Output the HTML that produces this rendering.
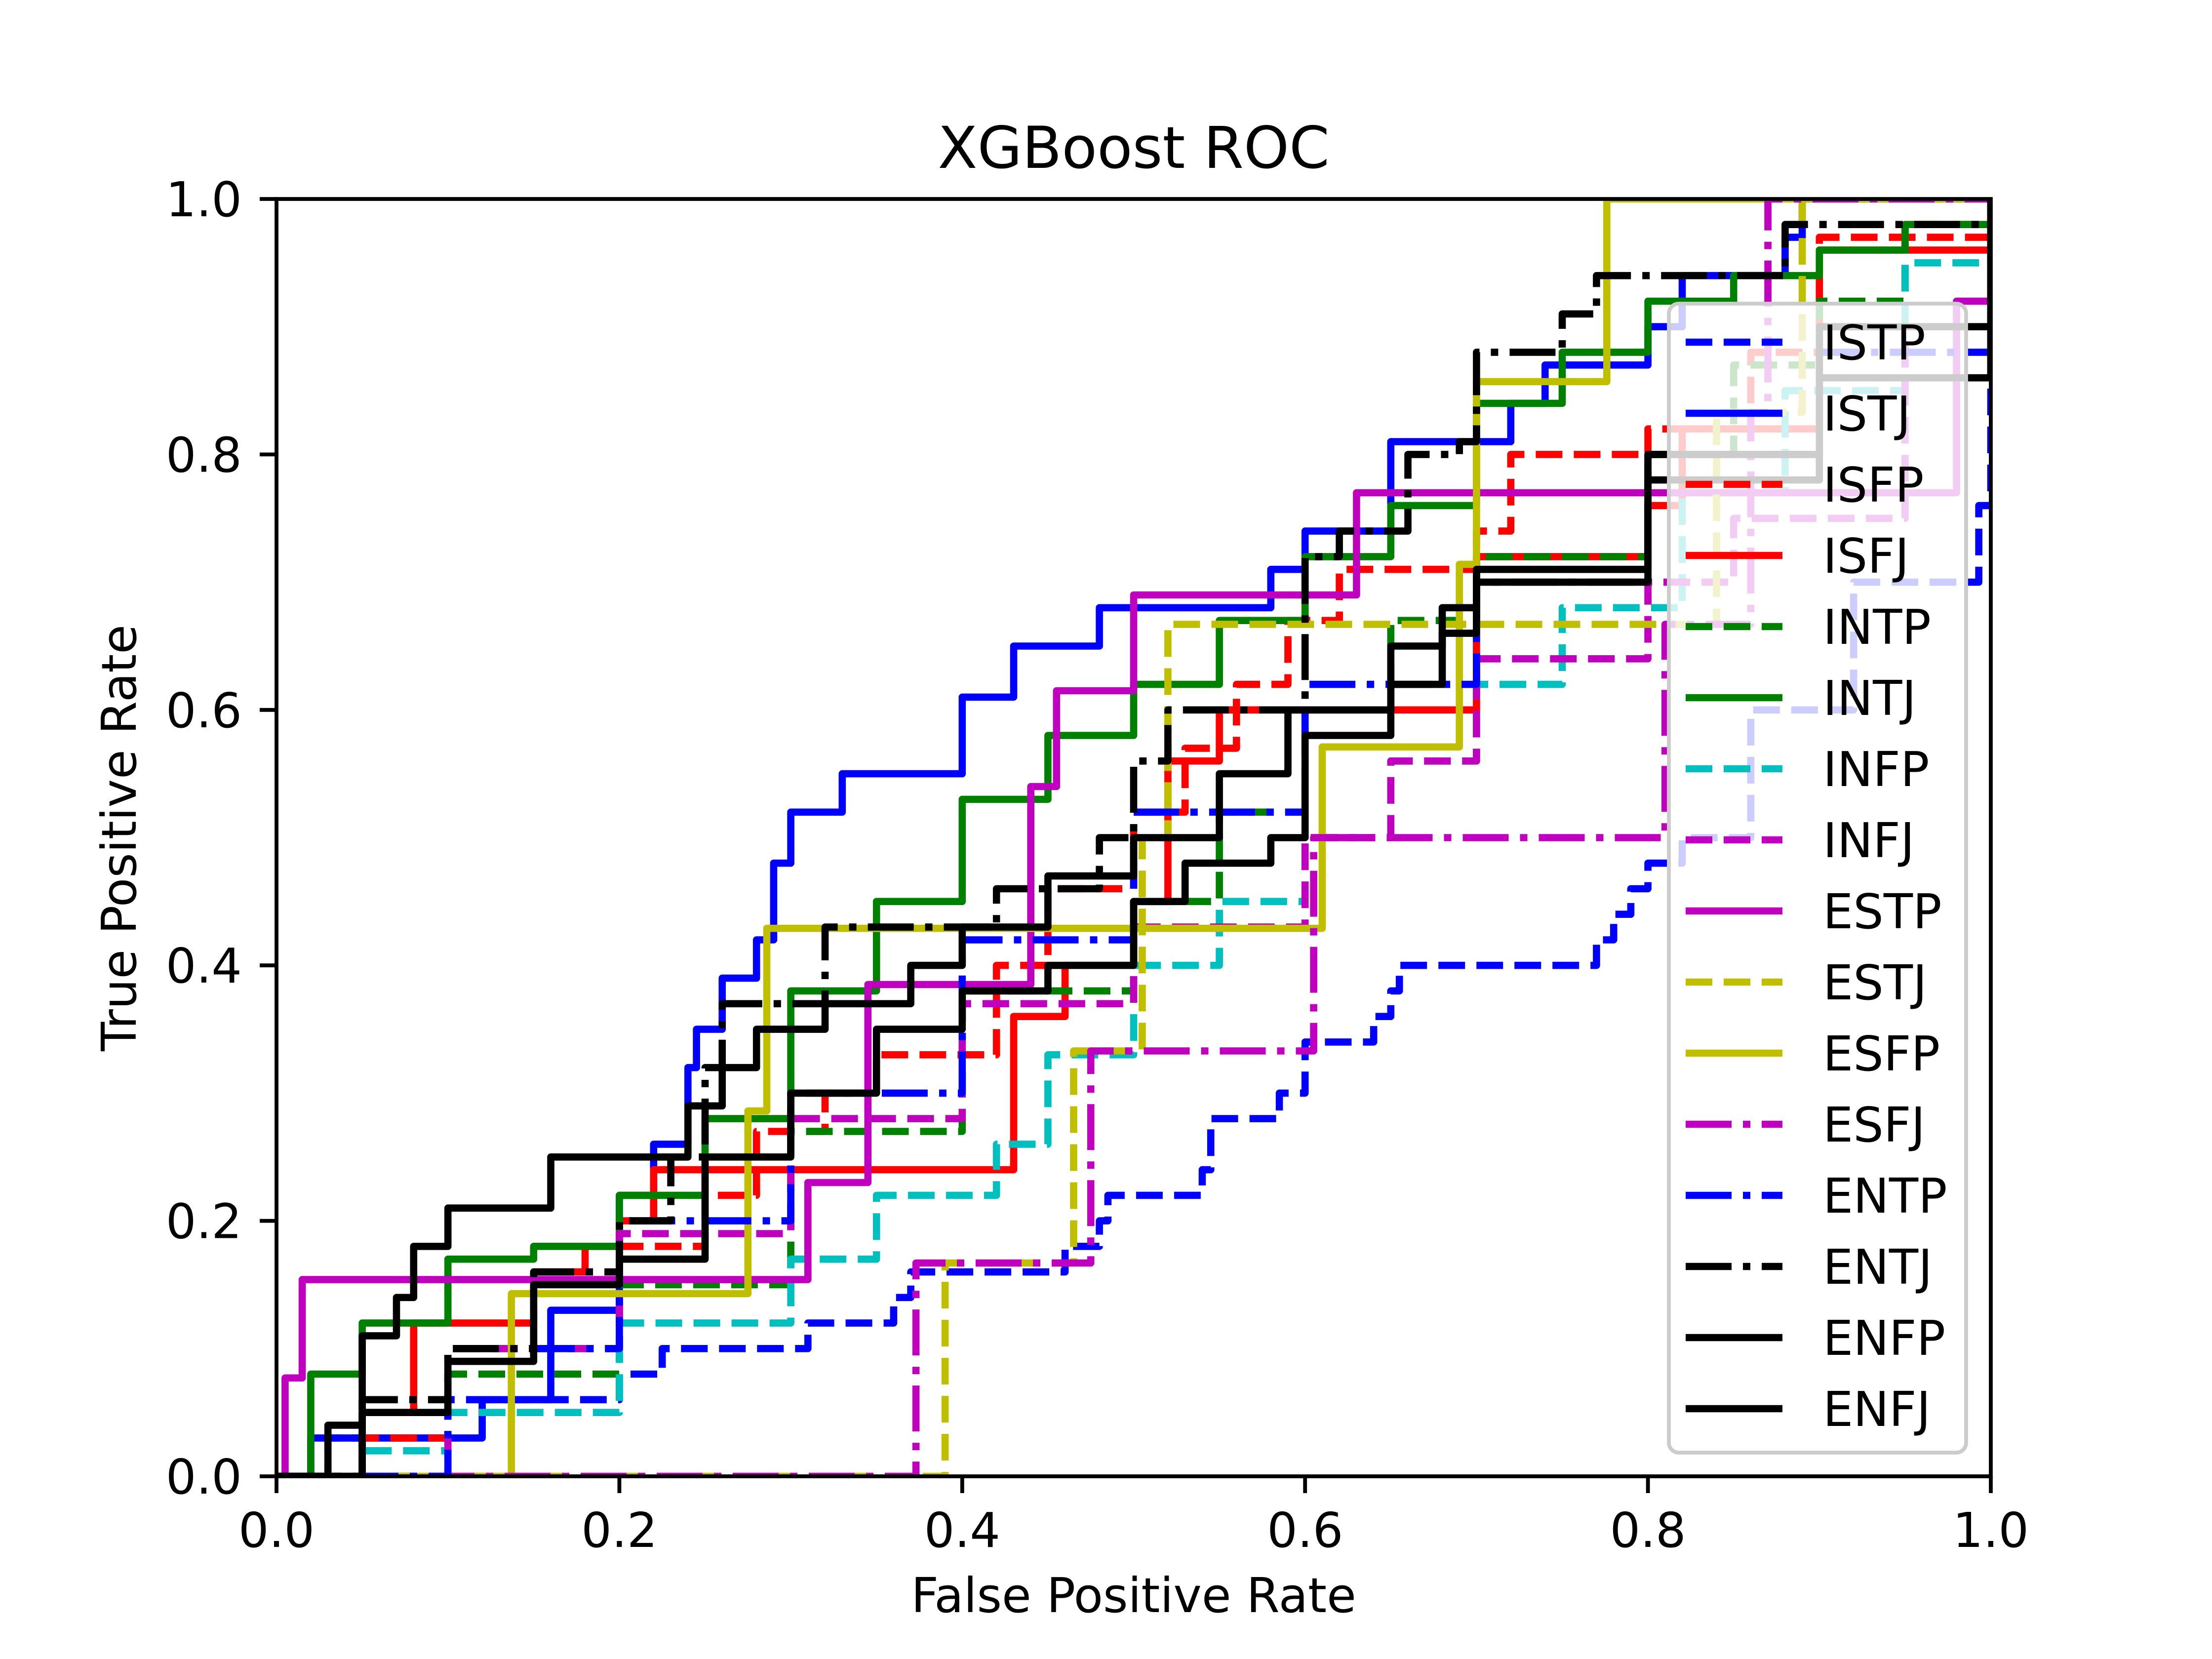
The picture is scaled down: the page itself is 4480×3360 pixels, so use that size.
<!DOCTYPE html>
<html><head><meta charset="utf-8">
<style>
html,body{margin:0;padding:0;background:#fff;}
svg{display:block;font-family:"DejaVu Sans","Liberation Sans",sans-serif;}
</style></head>
<body>
<svg id="chart" xmlns="http://www.w3.org/2000/svg" width="4480" height="3360" viewBox="0 0 4480 3360">
<rect width="4480" height="3360" fill="#fff"/>
<defs><clipPath id="clip"><rect x="560" y="403" width="3472" height="2587"/></clipPath></defs>
<text x="2296" y="340" font-size="117" text-anchor="middle">XGBoost ROC</text>
<text x="2296" y="3265" font-size="97" text-anchor="middle">False Positive Rate</text>
<text x="0" y="0" font-size="97" text-anchor="middle" transform="translate(275,1697) rotate(-90)">True Positive Rate</text>
<g id="ticks"></g>
<g id="lines" clip-path="url(#clip)"></g>
<rect x="560" y="403" width="3472" height="2587" fill="none" stroke="#000" stroke-width="7.8"/>
<g id="legend"></g>
</svg>
<script>
const classNames = ["ISTP","ISTJ","ISFP","ISFJ","INTP","INTJ","INFP","INFJ","ESTP","ESTJ","ESFP","ESFJ","ENTP","ENTJ","ENFP","ENFJ"];
const colors = ["#0000ff","#0000ff","#ff0000","#ff0000","#008000","#008000","#00bfbf","#bf00bf","#bf00bf","#bfbf00","#bfbf00","#bf00bf","#0000ff","#000000","#000000","#000000"];
const styles = ["dash","solid","dash","solid","dash","solid","dash","dash","solid","dash","solid","dashdot","dashdot","dashdot","solid","solid"];
const xTicks = [0,0.2,0.4,0.6,0.8,1.0];
const yTicks = [0,0.2,0.4,0.6,0.8,1.0];
const ISTP = [[0,0],[0.03,0.03],[0.1,0.06],[0.2,0.06],[0.2,0.08],[0.225,0.1],[0.31,0.12],[0.36,0.14],[0.37,0.16],[0.46,0.18],[0.48,0.2],[0.485,0.22],[0.54,0.24],[0.545,0.28],[0.585,0.3],[0.6,0.34],[0.64,0.36],[0.65,0.38],[0.655,0.4],[0.77,0.42],[0.78,0.44],[0.79,0.46],[0.8,0.48],[0.82,0.5],[0.86,0.6],[0.92,0.7],[0.993,0.76],[1,1]];
const ISTJ = [[0,0],[0.02,0.03],[0.12,0.06],[0.16,0.13],[0.2,0.22],[0.22,0.26],[0.24,0.32],[0.245,0.35],[0.26,0.39],[0.28,0.42],[0.29,0.48],[0.3,0.52],[0.33,0.55],[0.4,0.61],[0.43,0.65],[0.48,0.68],[0.58,0.71],[0.6,0.74],[0.65,0.81],[0.72,0.84],[0.74,0.87],[0.8,0.9],[0.82,0.94],[0.88,0.97],[0.89,1.0],[1,1]];
const ISFP = [[0,0],[0.05,0.03],[0.1,0.1],[0.18,0.1],[0.2,0.18],[0.25,0.22],[0.28,0.27],[0.32,0.3],[0.35,0.33],[0.42,0.4],[0.45,0.46],[0.5,0.52],[0.53,0.57],[0.56,0.62],[0.59,0.67],[0.62,0.71],[0.7,0.74],[0.72,0.8],[0.78,0.8],[0.8,0.82],[0.86,0.88],[0.9,0.97],[0.95,0.97],[1,1]];
const ISFJ = [[0,0],[0.05,0.05],[0.08,0.12],[0.12,0.12],[0.15,0.16],[0.18,0.18],[0.2,0.2],[0.22,0.24],[0.42,0.24],[0.43,0.36],[0.46,0.4],[0.5,0.45],[0.52,0.56],[0.55,0.6],[0.68,0.6],[0.7,0.72],[0.8,0.76],[0.82,0.82],[0.9,0.96],[1,1]];
const INTP = [[0,0],[0.1,0.08],[0.2,0.15],[0.3,0.27],[0.4,0.38],[0.5,0.45],[0.55,0.52],[0.6,0.6],[0.65,0.67],[0.7,0.72],[0.8,0.8],[0.85,0.87],[0.9,0.92],[0.95,0.98],[1,1]];
const INTJ = [[0,0],[0.02,0.08],[0.05,0.12],[0.1,0.17],[0.15,0.18],[0.2,0.22],[0.25,0.28],[0.3,0.38],[0.35,0.45],[0.4,0.53],[0.45,0.58],[0.5,0.62],[0.55,0.67],[0.6,0.72],[0.65,0.76],[0.7,0.84],[0.75,0.88],[0.8,0.92],[0.85,0.94],[0.9,0.96],[0.95,0.98],[1,1]];
const INFP = [[0,0],[0.05,0.02],[0.1,0.05],[0.2,0.12],[0.3,0.17],[0.35,0.22],[0.42,0.26],[0.45,0.33],[0.5,0.4],[0.55,0.45],[0.6,0.5],[0.65,0.56],[0.7,0.62],[0.75,0.68],[0.82,0.77],[0.88,0.85],[0.95,0.95],[1,1]];
const INFJ = [[0,0],[0.1,0.1],[0.2,0.19],[0.3,0.28],[0.4,0.37],[0.5,0.43],[0.6,0.5],[0.65,0.56],[0.7,0.64],[0.8,0.7],[0.85,0.75],[0.95,0.9],[1,1]];
const ESTP = [[0,0],[0.005,0.077],[0.015,0.154],[0.31,0.23],[0.345,0.385],[0.44,0.54],[0.455,0.615],[0.5,0.69],[0.63,0.77],[0.98,0.92],[1,1]];
const ESTJ = [[0,0],[0.39,0.167],[0.465,0.333],[0.505,0.5],[0.52,0.667],[0.84,0.833],[0.89,1],[1,1]];
const ESFP = [[0,0],[0.137,0.143],[0.275,0.286],[0.286,0.429],[0.61,0.571],[0.69,0.714],[0.7,0.857],[0.776,1],[1,1]];
const ESFJ = [[0,0],[0.373,0.167],[0.475,0.333],[0.605,0.5],[0.81,0.667],[0.86,0.833],[0.87,1],[1,1]];
const ENTP = [[0,0],[0.1,0.1],[0.2,0.2],[0.3,0.3],[0.4,0.42],[0.5,0.52],[0.6,0.62],[0.7,0.7],[0.8,0.8],[0.9,0.88],[1,1]];
const ENTJ = [[0,0],[0.05,0.06],[0.1,0.1],[0.15,0.16],[0.2,0.2],[0.23,0.25],[0.25,0.32],[0.26,0.37],[0.3,0.37],[0.32,0.43],[0.4,0.43],[0.42,0.46],[0.48,0.5],[0.5,0.56],[0.52,0.6],[0.57,0.6],[0.6,0.72],[0.62,0.74],[0.66,0.8],[0.69,0.81],[0.7,0.88],[0.75,0.91],[0.77,0.94],[0.86,0.94],[0.88,0.98],[1,1]];
const ENFP = [[0,0],[0.03,0.04],[0.05,0.11],[0.07,0.14],[0.08,0.18],[0.1,0.21],[0.14,0.21],[0.16,0.25],[0.2,0.25],[0.24,0.29],[0.26,0.32],[0.28,0.35],[0.32,0.37],[0.37,0.4],[0.4,0.43],[0.45,0.47],[0.48,0.47],[0.5,0.5],[0.55,0.55],[0.59,0.6],[0.65,0.62],[0.68,0.66],[0.7,0.71],[0.8,0.75],[0.8,0.8],[0.9,0.9],[1,1]];
const ENFJ = [[0,0],[0.05,0.05],[0.1,0.09],[0.15,0.15],[0.2,0.17],[0.25,0.25],[0.3,0.3],[0.35,0.35],[0.4,0.38],[0.45,0.4],[0.5,0.45],[0.53,0.48],[0.58,0.5],[0.6,0.58],[0.65,0.65],[0.68,0.68],[0.7,0.7],[0.8,0.78],[0.9,0.86],[1,1]];
const series = [ISTP,ISTJ,ISFP,ISFJ,INTP,INTJ,INFP,INFJ,ESTP,ESTJ,ESFP,ESFJ,ENTP,ENTJ,ENFP,ENFJ];

const NS = "http://www.w3.org/2000/svg";
const X0 = 560, X1 = 4032, Y0 = 2990, Y1 = 403;
function sx(v){ return X0 + v*(X1-X0); }
function sy(v){ return Y0 - v*(Y0-Y1); }
function dashFor(s){ return s==="dash" ? "54,23" : s==="dashdot" ? "93,23,15,23" : "none"; }

const ticks = document.getElementById("ticks");
xTicks.forEach(t => {
  const l = document.createElementNS(NS,"line");
  l.setAttribute("x1",sx(t)); l.setAttribute("x2",sx(t));
  l.setAttribute("y1",Y0); l.setAttribute("y2",Y0+34);
  l.setAttribute("stroke","#000"); l.setAttribute("stroke-width","7.8");
  
  
  ticks.appendChild(l);
  const tx = document.createElementNS(NS,"text");
  tx.setAttribute("x",sx(t)); tx.setAttribute("y",3133);
  tx.setAttribute("font-size","97"); tx.setAttribute("text-anchor","middle");
  tx.textContent = t.toFixed(1);
  
  
  ticks.appendChild(tx);
});
yTicks.forEach(t => {
  const l = document.createElementNS(NS,"line");
  l.setAttribute("x1",X0-34); l.setAttribute("x2",X0);
  l.setAttribute("y1",sy(t)); l.setAttribute("y2",sy(t));
  l.setAttribute("stroke","#000"); l.setAttribute("stroke-width","7.8");
  
  
  ticks.appendChild(l);
  const tx = document.createElementNS(NS,"text");
  tx.setAttribute("x",490); tx.setAttribute("y",sy(t)+35);
  tx.setAttribute("font-size","97"); tx.setAttribute("text-anchor","end");
  tx.textContent = t.toFixed(1);
  
  
  ticks.appendChild(tx);
});

const lines = document.getElementById("lines");
series.forEach((pts,i) => {
  const out = [[pts[0][0],pts[0][1]]];
  for (let k=1;k<pts.length;k++){
    const a = pts[k-1], b = pts[k];
    out.push([b[0],a[1]]);
    out.push([b[0],b[1]]);
  }
  const p = document.createElementNS(NS,"polyline");
  p.setAttribute("points", out.map(q => sx(q[0]).toFixed(1)+","+sy(q[1]).toFixed(1)).join(" "));
  p.setAttribute("fill","none");
  p.setAttribute("stroke",colors[i]);
  p.setAttribute("stroke-width","14.6");
  p.setAttribute("stroke-linejoin","round");
  if (styles[i]!=="solid") p.setAttribute("stroke-dasharray",dashFor(styles[i]));
  
  
  lines.appendChild(p);
});

const legend = document.getElementById("legend");
const box = document.createElementNS(NS,"rect");
box.setAttribute("x",3380); box.setAttribute("y",615);
box.setAttribute("width",602); box.setAttribute("height",2327);
box.setAttribute("rx",20);
box.setAttribute("fill","rgba(255,255,255,0.8)");
box.setAttribute("stroke","#cccccc"); box.setAttribute("stroke-width","7.8");


legend.appendChild(box);
classNames.forEach((n,i) => {
  const y = 693 + i*144;
  const l = document.createElementNS(NS,"line");
  l.setAttribute("x1",3414); l.setAttribute("x2",3610);
  l.setAttribute("y1",y); l.setAttribute("y2",y);
  l.setAttribute("stroke",colors[i]); l.setAttribute("stroke-width","14.6");
  if (styles[i]!=="solid") l.setAttribute("stroke-dasharray",dashFor(styles[i]));
  
  
  legend.appendChild(l);
  const t = document.createElementNS(NS,"text");
  t.setAttribute("x",3692); t.setAttribute("y",y+35);
  t.setAttribute("font-size","97");
  t.textContent = n;
  
  
  legend.appendChild(t);
});
</script>
</body></html>
